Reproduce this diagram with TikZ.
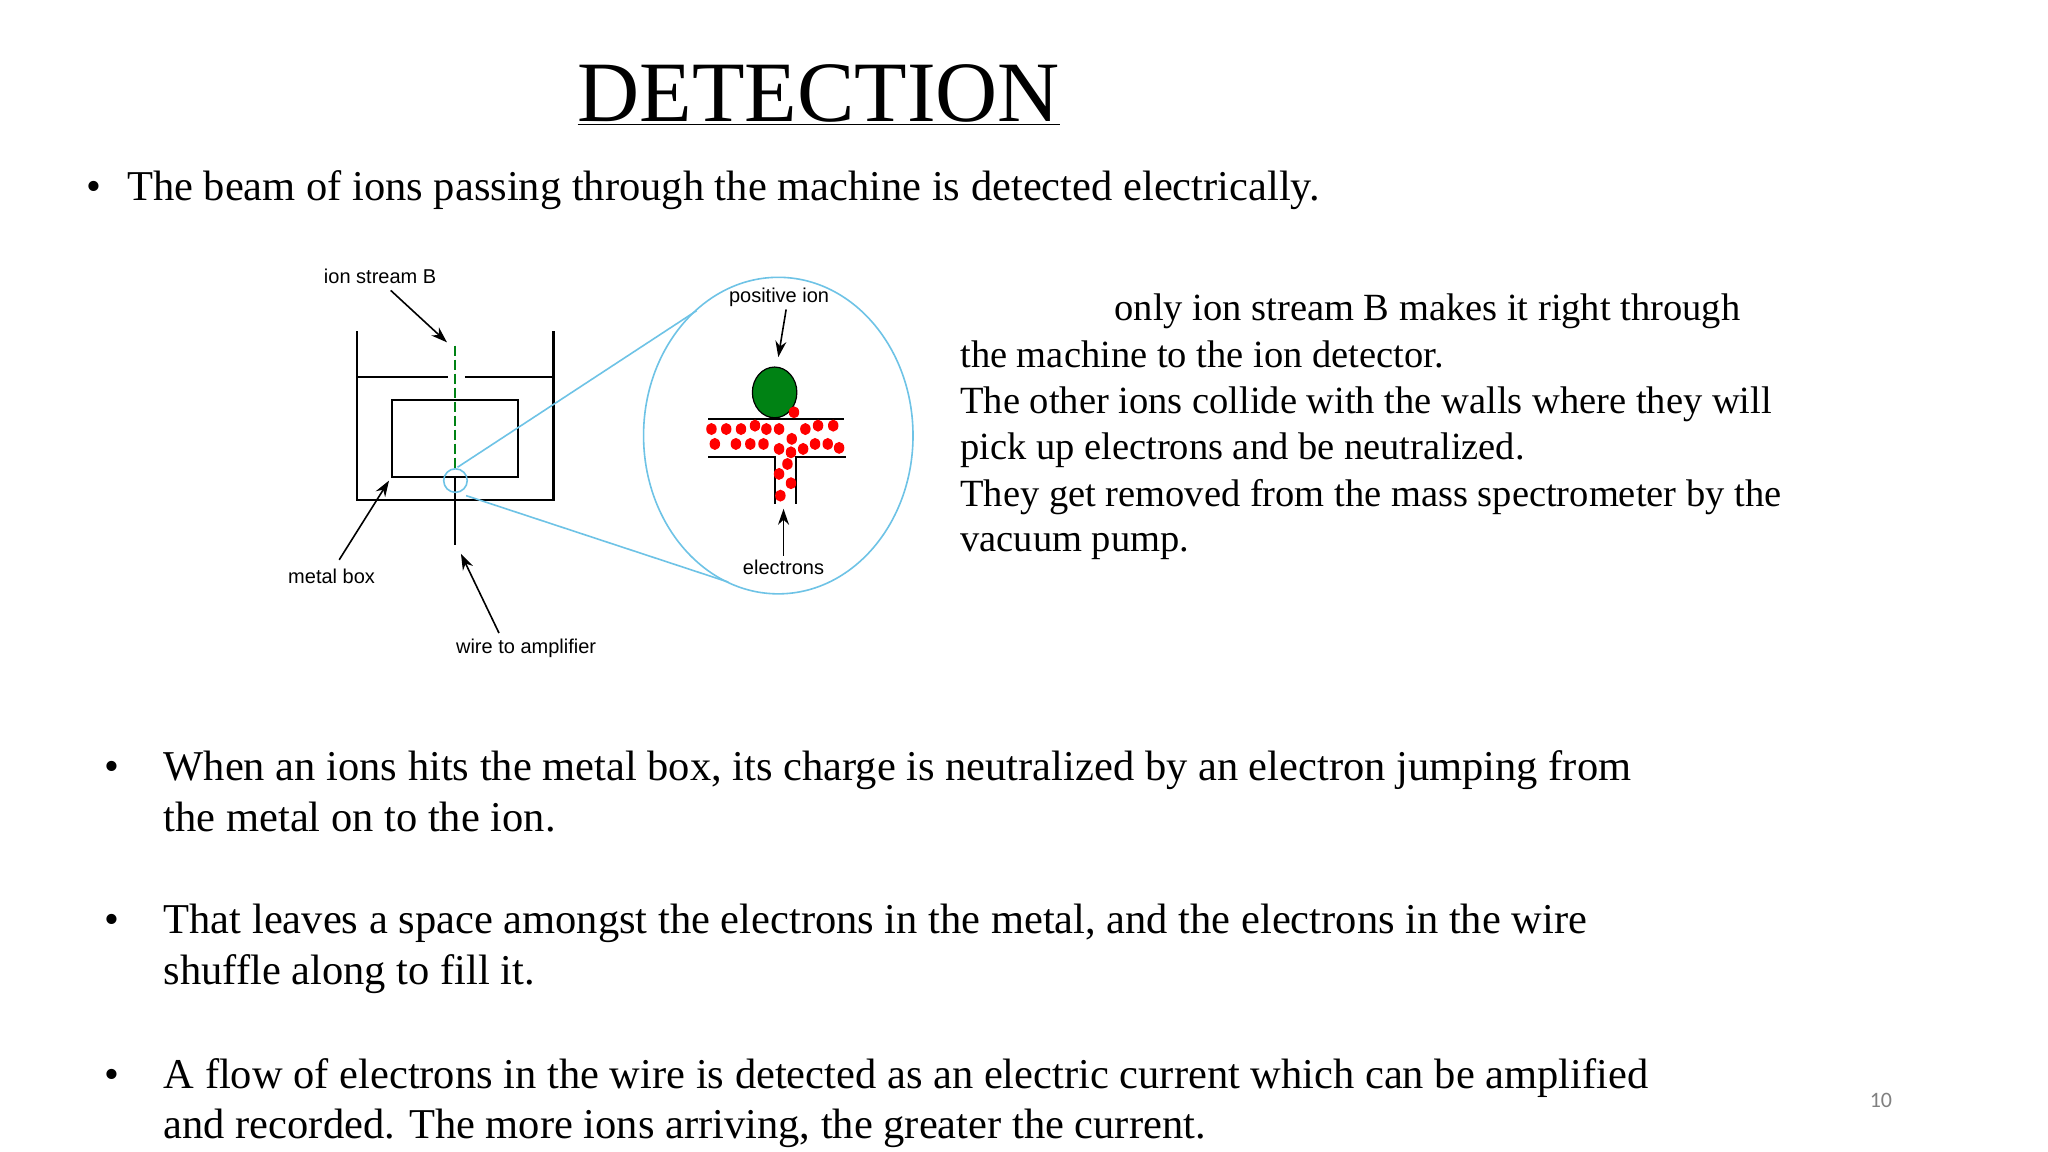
\documentclass[tikz,border=0pt]{standalone}
\usepackage{fontspec}
\setmainfont{Liberation Serif}
\newfontfamily\lab{Liberation Sans}
\newfontfamily\pnum{Carlito}
\usetikzlibrary{arrows.meta}
\definecolor{zblue}{RGB}{110,195,230}
\definecolor{igreen}{RGB}{0,130,20}
\begin{document}
\begin{tikzpicture}[x=1.308pt,y=-1.308pt,
  body/.style={anchor=base west,inner sep=0pt,font=\fontsize{42.5}{52}\selectfont},
  rbody/.style={anchor=base west,inner sep=0pt,font=\fontsize{38.5}{46}\selectfont},
  lbl/.style={inner sep=0pt,font=\lab\fontsize{20}{24}\selectfont},
  blk/.style={line width=2.4pt,black},
  arr/.style={line width=1.6pt,-{Stealth[length=16pt,width=11pt]}},
  dot/.style={fill=red,draw=none}]
\useasboundingbox[fill=white] (0,0) rectangle (1565.7,880.7);
\node[inner sep=0pt,anchor=base,font=\fontsize{86}{96}\selectfont] (title) at (626,93) {\underline{DETECTION}};
\node[body] (b1) at (66,153) {\textbullet};
\node[body] (t1) at (97,153) {The beam of ions passing through the machine is detected electrically.};
% right text
\node[rbody] (r1) at (852,245) {only ion stream B makes it right through};
\node[rbody] (r2) at (734,281) {the machine to the ion detector.};
\node[rbody] (r3) at (734,316) {The other ions collide with the walls where they will};
\node[rbody] (r4) at (734,351) {pick up electrons and be neutralized.};
\node[rbody] (r5) at (734,387) {They get removed from the mass spectrometer by the};
\node[rbody] (r6) at (734,422) {vacuum pump.};
% bottom bullets
\node[body] (bb1) at (80,597) {\textbullet};
\node[body] (u1) at (125,597) {When an ions hits the metal box, its charge is neutralized by an electron jumping from};
\node[body] (u2) at (125,636) {the metal on to the ion.};
\node[body] (bb2) at (80,714) {\textbullet};
\node[body] (u3) at (125,714) {That leaves a space amongst the electrons in the metal, and the electrons in the wire};
\node[body] (u4) at (125,753) {shuffle along to fill it.};
\node[body] (bb3) at (80,832) {\textbullet};
\node[body] (u5) at (125,832) {A flow of electrons in the wire is detected as an electric current which can be amplified};
\node[body] (u6) at (125,870) {and recorded. The more ions arriving, the greater the current.};
\node[inner sep=0pt,text=gray,font=\pnum\fontsize{22}{24}\selectfont] (pg) at (1438,841) {10};
% left apparatus
\draw[blk] (272.9,253.3) -- (272.9,382.2) -- (423.2,382.2) -- (423.2,253.3);
\draw[blk] (272.9,288.4) -- (342.4,288.4);
\draw[blk] (355.3,288.4) -- (423.2,288.4);
\draw[blk,line width=2pt] (299.7,305.8) rectangle (396,364.9);
\draw[igreen,line width=2pt,dash pattern=on 10 off 4] (348.2,264.2) -- (348.2,358.5);
\draw[blk,line width=2pt] (348.2,364.9) -- (348.2,417);
\coordinate (zc) at (348.2,367.4);
\draw[zblue,line width=1.6pt] (zc) circle[radius=9];
\draw[zblue,line width=1.6pt] (349.8,357.2) -- (532.6,237.5);
\draw[zblue,line width=1.6pt] (356.3,378.9) -- (556.8,445);
\draw[zblue,line width=1.6pt] (595,333) ellipse[x radius=103,y radius=121];
% zoom content
\fill[igreen,draw=black,line width=1.2pt] (592.2,300) ellipse[x radius=17,y radius=19.4];
\draw[blk,line width=2pt] (541.6,320.3) -- (645,320.3);
\draw[blk,line width=2pt] (541.6,349) -- (592.4,349) -- (592.4,385);
\draw[blk,line width=2pt] (646.4,349) -- (608.5,349) -- (608.5,385);
\foreach \x/\y in {543.9/328,555.2/328,566.5/328,577.2/325.4,585.9/328,595.6/328,605.3/335.5,615.7/328,625.4/325.4,637/325.4,
 546.5/339.4,562.6/339.4,573.6/339.4,583.7/339.4,595.6/343.2,604.7/345.8,614/343.2,623.1/339.4,632.8/339.4,641.5/342.4,
 602/354.7,595.6/362.3,604.7/369.4,596.6/378.9,607/315.2}
  \fill[dot] (\x,\y) ellipse[x radius=4,y radius=4.6];
% labels
\node[lbl] (lis) at (290.6,211.5) {ion stream B};
\coordinate (ais) at (341.7,261.7);
\draw[arr] (298.7,222) -- (ais);
\node[lbl] (lpi) at (595.6,227.3) {positive ion};
\coordinate (api) at (595,273);
\draw[arr] (lpi.south -| 601,0) ++(0,2) -- (api);
\node[lbl] (lel) at (599,433.6) {electrons};
\coordinate (ael) at (599,389);
\draw[arr] (lel.north) ++(0,-3) -- (ael);
\node[lbl] (lmb) at (253.5,440.8) {metal box};
\coordinate (amb) at (297.4,367.4);
\draw[arr] (259.3,428) -- (amb);
\node[lbl] (lwa) at (402.2,496) {wire to amplifier};
\coordinate (awa) at (352.4,423.4);
\draw[arr] (381.5,484) -- (awa);
\end{tikzpicture}
\end{document}
